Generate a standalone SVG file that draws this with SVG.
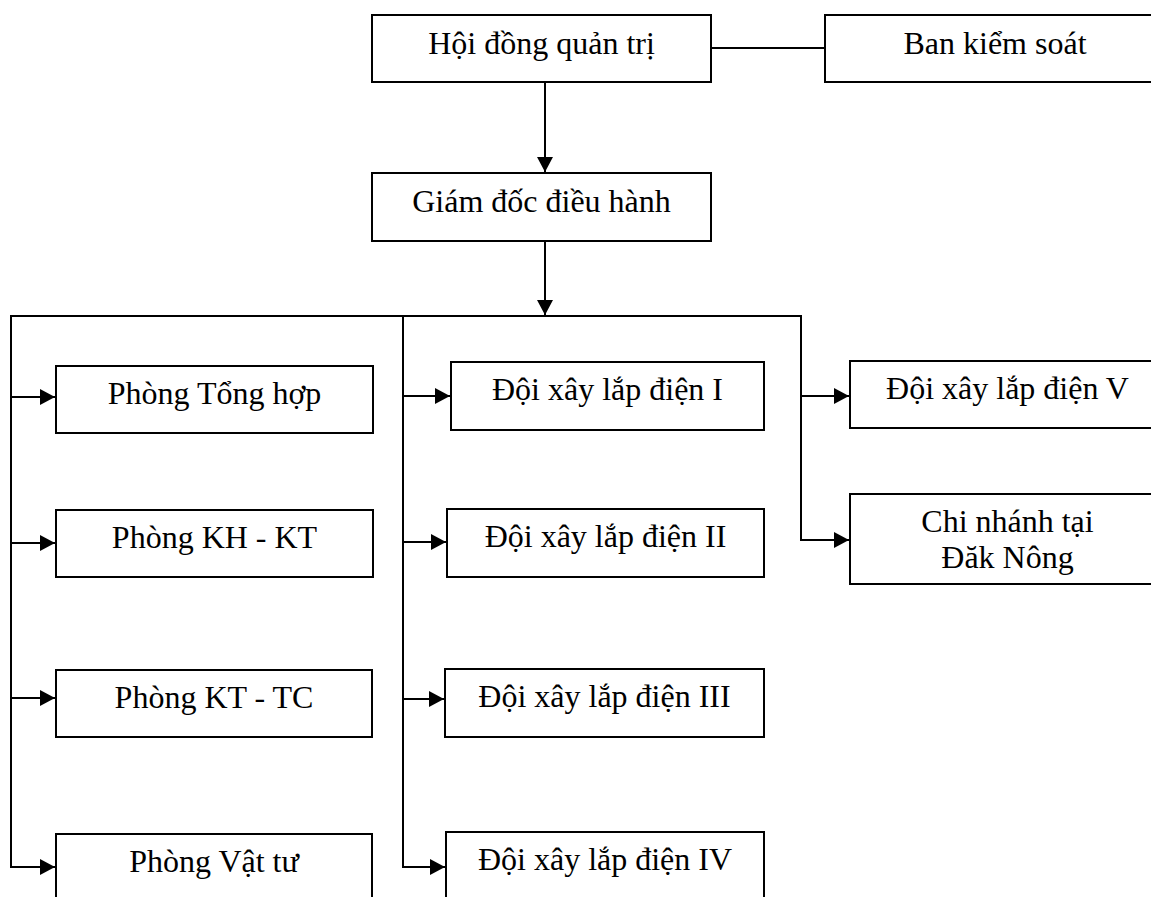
<svg xmlns="http://www.w3.org/2000/svg" width="1151" height="897" viewBox="0 0 1151 897">
<style>
.box{fill:#fff;stroke:#000;stroke-width:2}
.lbl{font-family:"Liberation Serif","Times New Roman",serif;font-size:32px;fill:#000;text-anchor:middle}
.ln{fill:none;stroke:#000;stroke-width:2}
</style>
<defs>
<marker id="ah" markerUnits="userSpaceOnUse" markerWidth="16" markerHeight="16" refX="15" refY="8" orient="auto">
<path d="M0,0 L15,8 L0,16 z" fill="#000"/>
</marker>
</defs>
<rect width="1151" height="897" fill="#fff"/>
<g id="connectors">
<line class="ln" x1="711" y1="48" x2="825" y2="48"/>
<line class="ln" x1="545" y1="82" x2="545" y2="172" marker-end="url(#ah)"/>
<line class="ln" x1="545" y1="241" x2="545" y2="315" marker-end="url(#ah)"/>
<polyline class="ln" points="11,867 11,316 801,316 801,540"/>
<line class="ln" x1="403" y1="316" x2="403" y2="867"/>
<line class="ln" x1="11" y1="397" x2="55" y2="397" marker-end="url(#ah)"/>
<line class="ln" x1="11" y1="543" x2="55" y2="543" marker-end="url(#ah)"/>
<line class="ln" x1="11" y1="698" x2="55" y2="698" marker-end="url(#ah)"/>
<line class="ln" x1="10" y1="867" x2="55" y2="867" marker-end="url(#ah)"/>
<line class="ln" x1="403" y1="396" x2="450" y2="396" marker-end="url(#ah)"/>
<line class="ln" x1="403" y1="542" x2="446" y2="542" marker-end="url(#ah)"/>
<line class="ln" x1="403" y1="699" x2="444" y2="699" marker-end="url(#ah)"/>
<line class="ln" x1="402" y1="867" x2="445" y2="867" marker-end="url(#ah)"/>
<line class="ln" x1="801" y1="396" x2="849" y2="396" marker-end="url(#ah)"/>
<line class="ln" x1="800" y1="540" x2="849" y2="540" marker-end="url(#ah)"/>
</g>
<g id="hdqt"><rect class="box" x="372" y="15" width="339" height="67"/><text class="lbl" x="541.5" y="54">Hội đồng quản trị</text></g>
<g id="bks"><rect class="box" x="825" y="15" width="340" height="67"/><text class="lbl" x="995" y="54">Ban kiểm soát</text></g>
<g id="gd"><rect class="box" x="372" y="173" width="339" height="68"/><text class="lbl" x="541.5" y="212">Giám đốc điều hành</text></g>
<g id="p-tonghop"><rect class="box" x="56" y="366" width="317" height="67"/><text class="lbl" x="214.5" y="404">Phòng Tổng hợp</text></g>
<g id="p-khkt"><rect class="box" x="56" y="510" width="317" height="67"/><text class="lbl" x="214.5" y="548">Phòng KH - KT</text></g>
<g id="p-kttc"><rect class="box" x="56" y="670" width="316" height="67"/><text class="lbl" x="214" y="708">Phòng KT - TC</text></g>
<g id="p-vattu"><rect class="box" x="56" y="834" width="316" height="75"/><text class="lbl" x="214" y="872">Phòng Vật tư</text></g>
<g id="doi1"><rect class="box" x="451" y="362" width="313" height="68"/><text class="lbl" x="607.5" y="400">Đội xây lắp điện I</text></g>
<g id="doi2"><rect class="box" x="447" y="509" width="317" height="68"/><text class="lbl" x="605.5" y="547">Đội xây lắp điện II</text></g>
<g id="doi3"><rect class="box" x="445" y="669" width="319" height="68"/><text class="lbl" x="604.5" y="707">Đội xây lắp điện III</text></g>
<g id="doi4"><rect class="box" x="446" y="832" width="318" height="77"/><text class="lbl" x="605" y="870">Đội xây lắp điện IV</text></g>
<g id="doi5"><rect class="box" x="850" y="361" width="315" height="67"/><text class="lbl" x="1007.5" y="399">Đội xây lắp điện V</text></g>
<g id="chinhanh"><rect class="box" x="850" y="494" width="315" height="90"/><text class="lbl" x="1007.5" y="532">Chi nhánh tại</text><text class="lbl" x="1007.5" y="568">Đăk Nông</text></g>
</svg>
